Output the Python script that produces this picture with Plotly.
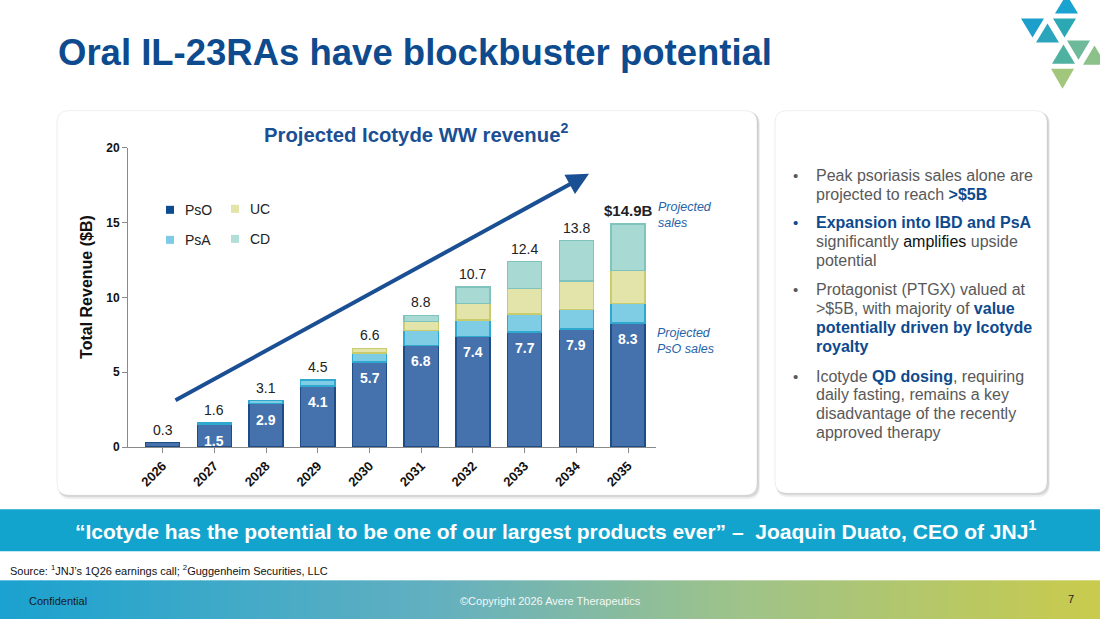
import plotly.graph_objects as go

# Slide size (px) as seen in the reference picture
W, H = 1100, 619
# Page height used for the figure, plus the vertical fit measured on earlier renders
FH = 634
VSCALE, VOFF = 0.9766, 6.6

# Chart data ($B)
years = ["2026", "2027", "2028", "2029", "2030", "2031", "2032", "2033", "2034", "2035"]
pso = [0.3, 1.5, 2.9, 4.1, 5.7, 6.8, 7.4, 7.7, 7.9, 8.3]
psa = [0.0, 0.1, 0.2, 0.4, 0.6, 1.0, 1.1, 1.2, 1.3, 1.3]
uc = [0.0, 0.0, 0.0, 0.0, 0.3, 0.6, 1.1, 1.7, 1.9, 2.2]
cd = [0.0, 0.0, 0.0, 0.0, 0.0, 0.4, 1.1, 1.8, 2.7, 3.1]
totals = [0.3, 1.6, 3.1, 4.5, 6.6, 8.8, 10.7, 12.4, 13.8, 14.9]
total_labels = ["0.3", "1.6", "3.1", "4.5", "6.6", "8.8", "10.7", "12.4", "13.8", "$14.9B"]
pso_labels = ["", "1.5", "2.9", "4.1", "5.7", "6.8", "7.4", "7.7", "7.9", "8.3"]
y_ticks = [0, 5, 10, 15, 20]

FONT = "Liberation Sans, Arial, sans-serif"
NAVY = "#0E4A8E"
GREY = "#595959"

series = [
    ("PsO", pso, "#4571AD", "#1D4C86", "#0D4A92"),
    ("PsA", psa, "#7ECDE5", "#2FA9CF", "#7DCBE6"),
    ("UC", uc, "#E3E4A9", "#C9CB6D", "#E2E4A8"),
    ("CD", cd, "#A9D9D3", "#7FC3BC", "#B2DED8"),
]
xi = list(range(len(years)))


def X(p):
    return p / W


def Y(p):
    return 1 - (p / VSCALE - VOFF) / FH


def rect(x0, y0, x1, y1, color, layer="below", line=None):
    return dict(type="rect", xref="paper", yref="paper", layer=layer,
                x0=X(x0), x1=X(x1), y0=Y(y1), y1=Y(y0),
                fillcolor=color, line=line or dict(width=0))


def rrect(x0, y0, x1, y1, r, color, line=None):
    path = (f"M {X(x0 + r)},{Y(y0)} L {X(x1 - r)},{Y(y0)} Q {X(x1)},{Y(y0)} {X(x1)},{Y(y0 + r)} "
            f"L {X(x1)},{Y(y1 - r)} Q {X(x1)},{Y(y1)} {X(x1 - r)},{Y(y1)} "
            f"L {X(x0 + r)},{Y(y1)} Q {X(x0)},{Y(y1)} {X(x0)},{Y(y1 - r)} "
            f"L {X(x0)},{Y(y0 + r)} Q {X(x0)},{Y(y0)} {X(x0 + r)},{Y(y0)} Z")
    return dict(type="path", xref="paper", yref="paper", layer="below", path=path,
                fillcolor=color, line=line or dict(width=0))


def tri(xl, xr, yt, yb, up, color):
    if up:
        pts = [((xl + xr) / 2, yt), (xr, yb), (xl, yb)]
    else:
        pts = [(xl, yt), (xr, yt), ((xl + xr) / 2, yb)]
    path = "M " + " L ".join(f"{X(a)},{Y(b)}" for a, b in pts) + " Z"
    return dict(type="path", xref="paper", yref="paper", path=path,
                fillcolor=color, line=dict(width=0))


def note(x, y, text, size=14, color="#222", xanchor="left", yanchor="middle", **kw):
    return dict(xref="paper", yref="paper", x=X(x), y=Y(y), text=text, showarrow=False,
                xanchor=xanchor, yanchor=yanchor,
                font=dict(family=FONT, size=size, color=color), **kw)


fig = go.Figure()

for name, vals, fill, edge, _ in series:
    fig.add_trace(go.Bar(
        x=xi, y=[v if v else None for v in vals], name=name, width=0.66,
        marker=dict(color=fill, line=dict(color=edge, width=1.5)),
        showlegend=False, hoverinfo="skip",
    ))

shapes = []
annotations = []

# Card backgrounds with soft shadow
for x0, y0, x1, y1 in [(57, 110, 757, 494), (775, 110, 1047, 492)]:
    shapes.append(rrect(x0 + 1, y0 + 1, x1 + 3, y1 + 4, 13, "rgba(0,0,0,0.06)"))
    shapes.append(rrect(x0 + 1, y0 + 1, x1 + 2, y1 + 2, 12, "rgba(0,0,0,0.10)"))
    shapes.append(rrect(x0, y0, x1, y1, 12, "white", line=dict(color="rgba(0,0,0,0.07)", width=1)))

# Quote banner
shapes.append(rect(0, 508, 1100, 550, "#13A4CE"))

# Footer gradient strip
stops = [(0.0, (26, 162, 208)), (0.4, (100, 176, 192)), (0.65, (155, 194, 142)), (1.0, (201, 203, 76))]
steps = 110
for i in range(steps):
    t = (i + 0.5) / steps
    for (t0, c0), (t1, c1) in zip(stops, stops[1:]):
        if t0 <= t <= t1:
            f = (t - t0) / (t1 - t0)
            c = tuple(round(a + (b - a) * f) for a, b in zip(c0, c1))
            break
    shapes.append(rect(i * W / steps, 579, (i + 1) * W / steps + 0.5, 640, "rgb(%d,%d,%d)" % c))

# Logo triangles
logo = [
    (1055, 1078, -6, 13, True, "#19A3D0"),
    (1021, 1044, 18, 37, False, "#1C9FCB"),
    (1036, 1059, 23, 42, True, "#2AA5BB"),
    (1053, 1076, 18, 37, False, "#2BA8B3"),
    (1052, 1075, 44, 63, True, "#4FB1A0"),
    (1067, 1090, 40, 59, False, "#6DB99A"),
    (1083, 1106, 45, 64, True, "#8DC18A"),
    (1051, 1074, 68, 88, False, "#A2C67B"),
]
for t in logo:
    shapes.append(tri(*t))

# Manual legend
legend_pos = {"PsO": (166, 209), "PsA": (166, 239), "UC": (231, 208), "CD": (231, 238)}
for name, _, _, _, swatch in series:
    lx, ly = legend_pos[name]
    shapes.append(rect(lx, ly - 4, lx + 8, ly + 4, swatch, layer="above"))
    annotations.append(note(lx + 17, ly, name, size=14))

# Slide title
annotations.append(note(56, 52, "<b>Oral IL-23RAs have blockbuster potential</b>", size=36.5, color=NAVY))
# Chart title
annotations.append(note(416, 132, "<b>Projected Icotyde WW revenue<sup>2</sup></b>", size=20.3,
                        color="#1B4F93", xanchor="center"))
# Y axis title
annotations.append(note(87, 286, "<b>Total Revenue ($B)</b>", size=16, color="#111",
                        xanchor="center", textangle=-90))

# Totals above bars and PsO values inside bars
last = len(xi) - 1
for i, tot, lab in zip(xi, totals, total_labels):
    annotations.append(dict(x=i, y=tot, xref="x", yref="y",
                            text="<b>" + lab + "</b>" if i == last else lab, showarrow=False,
                            yanchor="bottom", yshift=3,
                            font=dict(family=FONT, size=15 if i == last else 14, color="#222")))
for i, v, lab in zip(xi, pso, pso_labels):
    if lab:
        annotations.append(dict(x=i, y=v, xref="x", yref="y", text="<b>" + lab + "</b>",
                                showarrow=False, yanchor="top", yshift=-6,
                                font=dict(family=FONT, size=14, color="white")))

# Growth arrow (offsets in layout px)
head_x, head_y, tail_x, tail_y = 589, 173, 174, 395
annotations.append(dict(xref="paper", yref="paper", x=X(head_x), y=Y(head_y),
                        ax=tail_x - head_x, ay=(tail_y - head_y) / VSCALE,
                        text="", showarrow=True, arrowhead=2, arrowsize=1.1, arrowwidth=4,
                        arrowcolor="#1B4F93", standoff=0))

# Italic side notes
annotations.append(note(656, 214, "<i>Projected<br>sales</i>", size=12.5, color="#2563A8", align="left"))
annotations.append(note(655, 340, "<i>Projected<br>PsO sales</i>", size=12.5, color="#2563A8", align="left"))

# Right-hand bullets, one annotation per line
B = "<b><span style='color:%s'>%%s</span></b>" % NAVY
bullets = [
    (175, ["Peak psoriasis sales alone are", "projected to reach " + B % "&gt;$5B"]),
    (222, [B % "Expansion into IBD and PsA",
           "significantly <span style='color:#111'>amplifies</span> upside", "potential"]),
    (289, ["Protagonist (PTGX) valued at", "&gt;$5B, with majority of " + B % "value",
           B % "potentially driven by Icotyde", B % "royalty"]),
    (375, ["Icotyde " + B % "QD dosing" + ", requiring", "daily fasting, remains a key",
           "disadvantage of the recently", "approved therapy"]),
]
for k, (top, lines) in enumerate(bullets):
    dot_color = NAVY if k == 1 else GREY
    annotations.append(note(791, top, "•", size=15, color=dot_color))
    for j, line in enumerate(lines):
        annotations.append(note(814, top + j * 18.9, line, size=16, color=GREY))

# Quote, source, footer
annotations.append(note(555, 529, "<b>\u201cIcotyde has the potential to be one of our largest products ever\u201d \u2013  "
                        "Joaquin Duato, CEO of JNJ<sup>1</sup></b>", size=21, color="white", xanchor="center"))
annotations.append(note(8, 569, "Source: <sup>1</sup>JNJ\u2019s 1Q26 earnings call; <sup>2</sup>Guggenheim Securities, LLC",
                        size=11, color="#111"))
annotations.append(note(27, 600, "Confidential", size=11, color="#1a1a1a"))
annotations.append(note(550, 600, "\u00a9Copyright 2026 Avere Therapeutics", size=11, color="#F4F7F4",
                        xanchor="center"))
annotations.append(note(1071, 598, "7", size=11, color="#1a1a1a", xanchor="center"))

fig.update_layout(
    width=W, height=FH, margin=dict(l=0, r=0, t=0, b=0),
    paper_bgcolor="white", plot_bgcolor="rgba(0,0,0,0)",
    barmode="stack", showlegend=False,
    font=dict(family=FONT),
    shapes=shapes, annotations=annotations,
    xaxis=dict(domain=[X(128), X(656)], range=[-0.67, 9.54], tickvals=xi, ticktext=years,
               showline=True, linecolor="#8a8a8a", linewidth=1, ticks="outside", ticklen=5,
               tickcolor="#8a8a8a", tickangle=-45, showgrid=False, zeroline=False,
               tickfont=dict(family=FONT, size=13, color="#111", weight="bold")),
    yaxis=dict(domain=[Y(446), Y(147)], range=[0, 20], tickvals=y_ticks,
               showline=True, linecolor="#8a8a8a", linewidth=1, ticks="outside", ticklen=5,
               tickcolor="#8a8a8a", showgrid=False, zeroline=False,
               tickfont=dict(family=FONT, size=12, color="#111", weight="bold")),
)

fig.write_html(
    "out.html",
    config={"displayModeBar": False, "staticPlot": True},
    post_script="document.body.style.margin='0';",
)
